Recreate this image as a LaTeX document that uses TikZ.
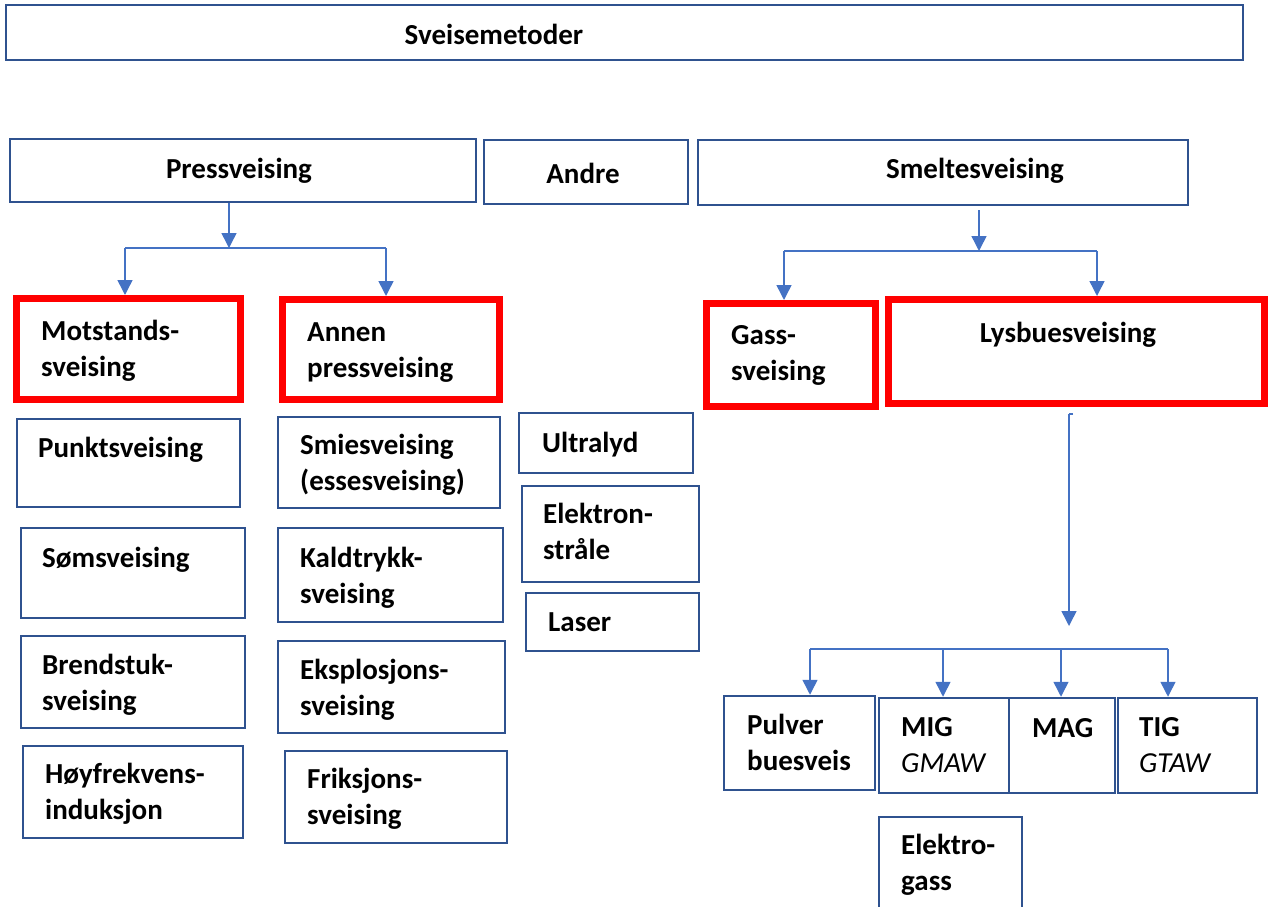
\documentclass[tikz,border=0pt]{standalone}
\usepackage{fontspec}
\setmainfont{Carlito}
\usetikzlibrary{arrows.meta}
\definecolor{boxblue}{HTML}{2F528F}
\definecolor{lineblue}{HTML}{4472C4}
\definecolor{boxred}{HTML}{FF0000}
\begin{document}
\begin{tikzpicture}
[x=1pt,y=-1pt,
  boxdecorate/.style={shape=rectangle,draw=boxblue,line width=2.5pt,inner sep=0pt},%
  redboxdecorate/.style={shape=rectangle,draw=boxred,line width=7pt,inner sep=0pt},%
  textdecorate/.style={inner sep=0pt,align=left,font=\fontsize{29}{36}\selectfont\bfseries},%
  linedecorate/.style={-,draw=lineblue,line width=1.5pt},%
  arrowdecorate/.style={-{Triangle[length=15pt,width=15pt]},draw=lineblue,fill=lineblue,line width=1.5pt}]
\useasboundingbox (0,0) rectangle (1269,907);
%% blue boxes with their texts (text at the baseline of its last line)
\foreach \nodename/\xa/\ya/\xb/\yb/\tx/\ty/\nodetext in {
  punkt/17/419/240/507/38/457/{Punktsveising},
  soms/21/528/245/618/42/567/{Sømsveising},
  brend/21/636/245/728/42/710/{Brendstuk-\\sveising},
  hoy/23/746/243/838/45/819/{Høyfrekvens-\\induksjon},
  smie/278/417/500/508/300/490/{Smiesveising\\(essesveising)},
  kald/278/528/503/622/300/603/{Kaldtrykk-\\sveising},
  eksp/278/641/505/733/300/715/{Eksplosjons-\\sveising},
  friks/285/751/507/843/307/824/{Friksjons-\\sveising},
  ultra/519/413/693/473/542/452/{Ultralyd},
  elstr/522/486/699/582/543/559/{Elektron-\\stråle},
  laser/526/593/699/651/548/631/{Laser},
  pulver/724/696/875/790/747/770/{Pulver\\buesveis},
  mig/879/698/1009/793/901/772/{MIG\\{\mdseries\itshape GMAW}},
  mag/1009/698/1115/793/1032/737/{MAG},
  tig/1118/698/1257/793/1139/772/{TIG\\{\mdseries\itshape GTAW}},
  elgass/879/817/1022/915/901/890/{Elektro-\\gass}} {
  \node (\nodename) at ({(\xa+\xb)/2},{(\ya+\yb)/2}) [boxdecorate,
    minimum width={(\xb-\xa)*1pt}, minimum height={(\yb-\ya)*1pt}] {};
  \node (\nodename-t) at (\tx,\ty) [textdecorate,anchor=base west] {\nodetext};
}
%% red boxes with their texts
\foreach \nodename/\xa/\ya/\xb/\yb/\tx/\ty/\nodetext in {
  motst/16.5/298.5/240.5/399.5/41/376/{Motstands-\\sveising},
  annen/282.5/299.5/499.5/399.5/307/377/{Annen\\pressveising},
  gass/706.5/303.5/875.5/406.5/731/380/{Gass-\\sveising}} {
  \node (\nodename) at ({(\xa+\xb)/2},{(\ya+\yb)/2}) [redboxdecorate,
    minimum width={(\xb-\xa)*1pt}, minimum height={(\yb-\ya)*1pt}] {};
  \node (\nodename-t) at (\tx,\ty) [textdecorate,anchor=base west] {\nodetext};
}
\node (lysbue) at (1076.5,351.5) [redboxdecorate,minimum width=376pt,minimum height=104pt] {};
\node (lysbue-t) at (1068,342) [textdecorate,anchor=base] {Lysbuesveising};
%% headings
\foreach \nodename/\xa/\ya/\xb/\yb/\tx/\ty/\nodetext in {
  top/6/5/1243/60/494/45/{Sveisemetoder},
  press/10/139/476/202/239/178/{Pressveising},
  andre/484/140/688/204/583/183/{Andre},
  smelt/698/140/1188/205/975/178/{Smeltesveising}} {
  \node (\nodename) at ({(\xa+\xb)/2},{(\ya+\yb)/2}) [boxdecorate,
    minimum width={(\xb-\xa)*1pt}, minimum height={(\yb-\ya)*1pt}] {};
  \node (\nodename-t) at (\tx,\ty) [textdecorate,anchor=base] {\nodetext};
}
%% connectors
\coordinate (pj) at (229,248);
\coordinate (pl) at (125,248);
\coordinate (pr) at (386,248);
\draw[arrowdecorate] (press.south -| pj) -- (pj);
\draw[linedecorate] (pl) -- (pr);
\draw[arrowdecorate] (pl) -- (pl |- motst.north);
\draw[arrowdecorate] (pr) -- (pr |- annen.north);
\coordinate (sj) at (979,251);
\coordinate (sl) at (784,251);
\coordinate (sr) at (1097,251);
\draw[arrowdecorate] ([yshift=-4pt]smelt.south -| sj) -- (sj);
\draw[linedecorate] (sl) -- (sr);
\draw[arrowdecorate] (sl) -- (sl |- gass.north);
\draw[arrowdecorate] (sr) -- (sr |- lysbue.north);
\coordinate (lt) at (1069,414);
\coordinate (lb) at (1069,626);
\draw[linedecorate] ([xshift=4pt]lt) -- (lt);
\draw[arrowdecorate] (lt) -- (lb);
\coordinate (bl) at (810,649);
\coordinate (br) at (1168,649);
\draw[linedecorate] (bl) -- (br);
\foreach \target/\x in {pulver/810, mig/943, mag/1061, tig/1168} {
  \coordinate (d\target) at (\x,649);
  \draw[arrowdecorate] (d\target) -- (d\target |- \target.north);
}
\end{tikzpicture}
\end{document}
